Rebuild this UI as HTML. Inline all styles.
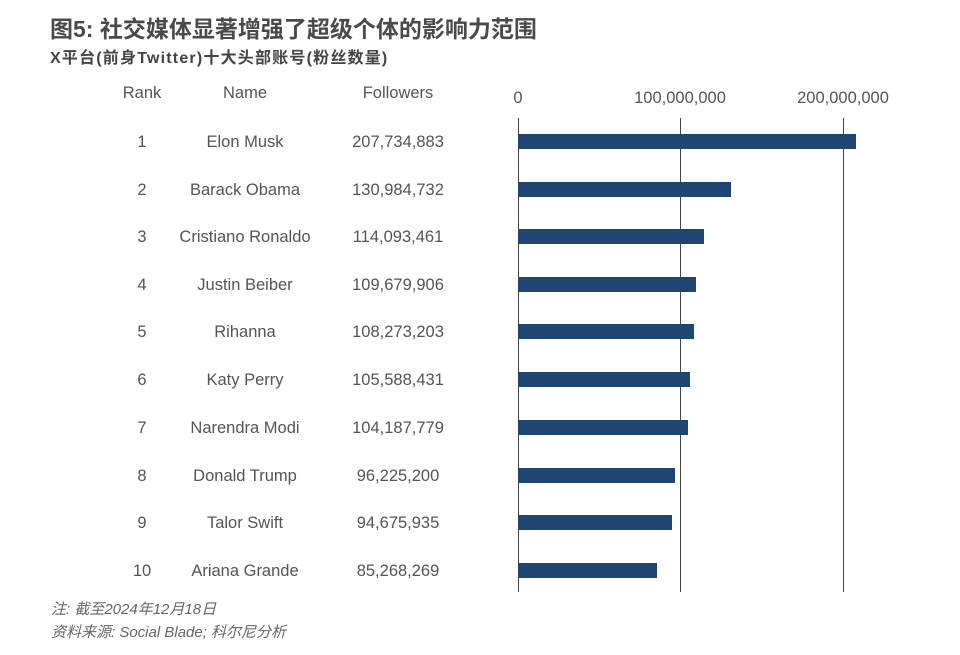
<!DOCTYPE html>
<html><head><meta charset="utf-8"><style>
body{margin:0;background:#fff;}
svg{display:block;}
text{font-family:"Liberation Sans","Noto Sans CJK SC",sans-serif;}
</style></head><body>
<svg width="960" height="655" xmlns="http://www.w3.org/2000/svg">
<text x="50" y="37" font-size="23" font-weight="bold" fill="#4a4a4a">图5: 社交媒体显著增强了超级个体的影响力范围</text>
<text x="50" y="63" font-size="16" font-weight="bold" fill="#444" letter-spacing="1.2">X平台(前身Twitter)十大头部账号(粉丝数量)</text>
<g font-size="16.5" fill="#555" text-anchor="middle">
<text x="142" y="98">Rank</text><text x="245" y="98">Name</text><text x="398" y="98">Followers</text>
<text x="518" y="103">0</text><text x="680" y="103">100,000,000</text><text x="843" y="103">200,000,000</text>
</g>
<g stroke="#444" stroke-width="1">
<line x1="518.5" y1="118" x2="518.5" y2="592"/><line x1="680.5" y1="118" x2="680.5" y2="592"/><line x1="843.5" y1="118" x2="843.5" y2="592"/>
</g>
<g fill="#1f4570">
<rect x="518" y="134" width="338" height="15"/>
<rect x="518" y="182" width="213" height="15"/>
<rect x="518" y="229" width="186" height="15"/>
<rect x="518" y="277" width="178" height="15"/>
<rect x="518" y="324" width="176" height="15"/>
<rect x="518" y="372" width="172" height="15"/>
<rect x="518" y="420" width="170" height="15"/>
<rect x="518" y="468" width="157" height="15"/>
<rect x="518" y="515" width="154" height="15"/>
<rect x="518" y="563" width="139" height="15"/>
</g>
<g font-size="16.5" fill="#555" text-anchor="middle">
<text x="142" y="147">1</text><text x="245" y="147">Elon Musk</text><text x="398" y="147">207,734,883</text>
<text x="142" y="195">2</text><text x="245" y="195">Barack Obama</text><text x="398" y="195">130,984,732</text>
<text x="142" y="242">3</text><text x="245" y="242">Cristiano Ronaldo</text><text x="398" y="242">114,093,461</text>
<text x="142" y="290">4</text><text x="245" y="290">Justin Beiber</text><text x="398" y="290">109,679,906</text>
<text x="142" y="337">5</text><text x="245" y="337">Rihanna</text><text x="398" y="337">108,273,203</text>
<text x="142" y="385">6</text><text x="245" y="385">Katy Perry</text><text x="398" y="385">105,588,431</text>
<text x="142" y="433">7</text><text x="245" y="433">Narendra Modi</text><text x="398" y="433">104,187,779</text>
<text x="142" y="481">8</text><text x="245" y="481">Donald Trump</text><text x="398" y="481">96,225,200</text>
<text x="142" y="528">9</text><text x="245" y="528">Talor Swift</text><text x="398" y="528">94,675,935</text>
<text x="142" y="576">10</text><text x="245" y="576">Ariana Grande</text><text x="398" y="576">85,268,269</text>
</g>
<g font-size="15" fill="#666" font-style="italic">
<text x="51" y="614">注: 截至2024年12月18日</text>
<text x="51" y="637">资料来源: Social Blade; 科尔尼分析</text>
</g>
</svg>
</body></html>
